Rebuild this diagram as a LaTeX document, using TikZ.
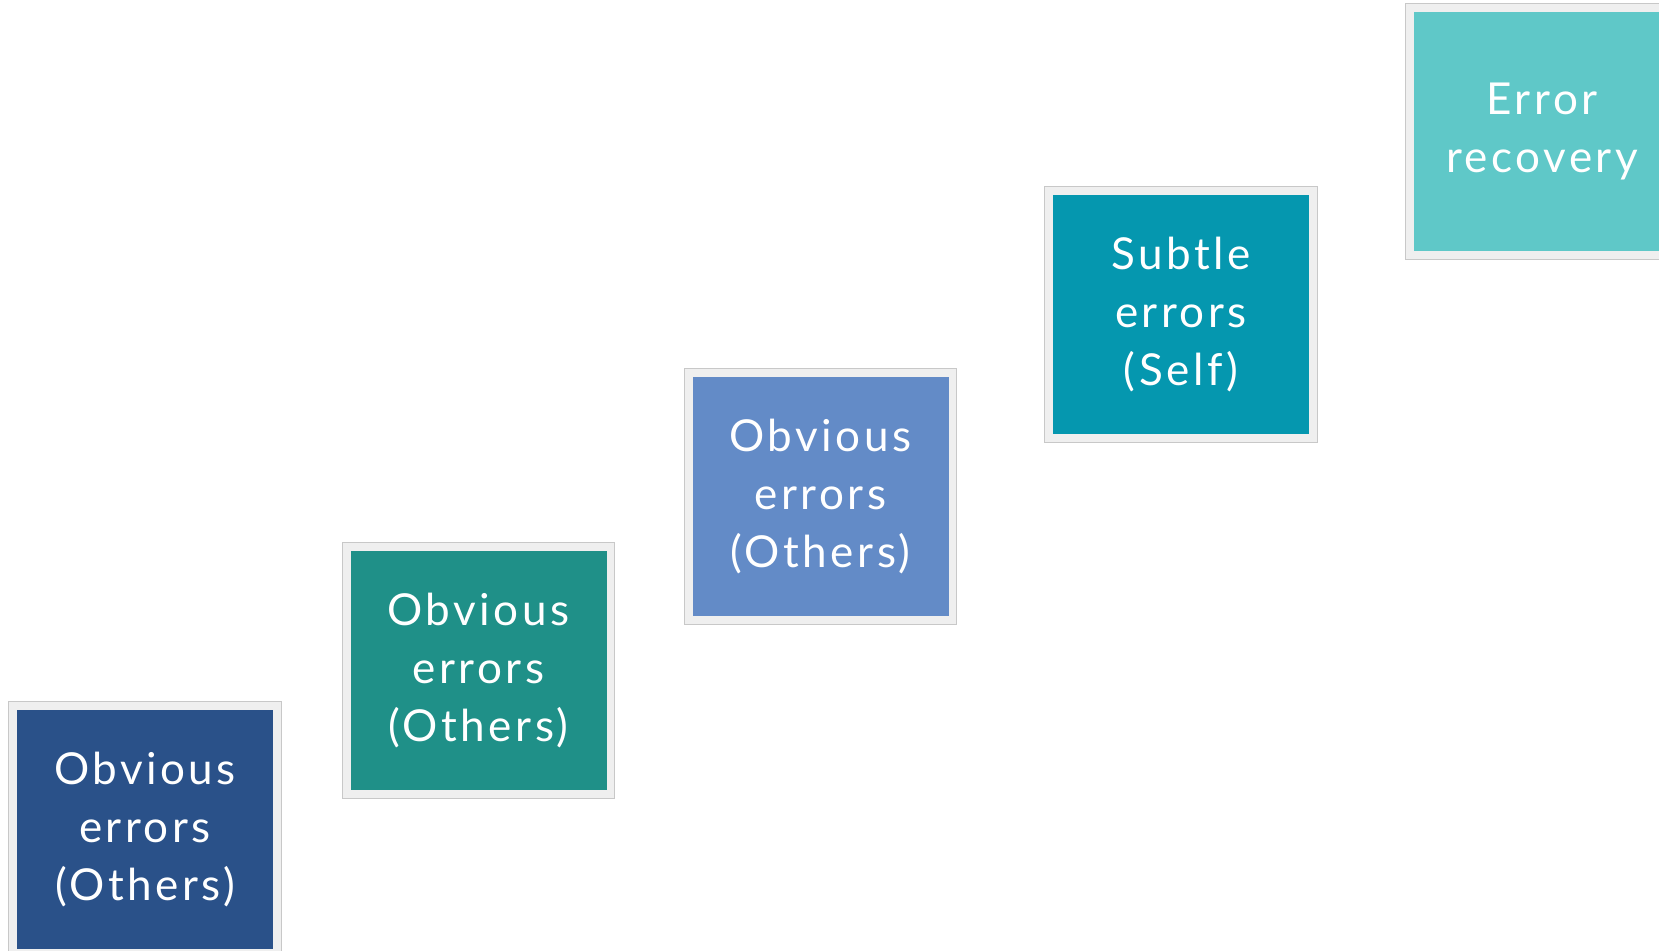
\documentclass[tikz,border=0pt]{standalone}
\usepackage{fontspec}
\setmainfont{Lato}
\newfontfamily\cardfamily[LetterSpace=8]{Lato}
\usetikzlibrary{backgrounds}
\definecolor{cA}{HTML}{2A5189}
\definecolor{cB}{HTML}{1F9088}
\definecolor{cC}{HTML}{638BC7}
\definecolor{cD}{HTML}{0597AF}
\definecolor{cE}{HTML}{5FC8C8}
\definecolor{frameFill}{HTML}{EFEFEF}
\definecolor{frameLine}{HTML}{C8C8C8}
\newcommand{\cardfont}{\cardfamily\fontsize{44}{58}\selectfont}
\tikzset{
  card/.style={fill=#1, minimum width=256pt, minimum height=239pt, inner sep=0pt,
    text=white, align=center, font=\cardfont},
  cardframe/.style={fill=frameFill, draw=frameLine, line width=1pt}
}
\begin{document}
\begin{tikzpicture}[x=1pt,y=-1pt]
\useasboundingbox (0,0) rectangle (1659,950);
\clip (0,0) rectangle (1659,950);
\node[card=cA] (b1) at (145,829.5) {Obvious\\errors\\(Others)};
\node[card=cB] (b2) at (478.5,670.5) {Obvious\\errors\\(Others)};
\node[card=cC] (b3) at (820.5,496.5) {Obvious\\errors\\(Others)};
\node[card=cD] (b4) at (1181,314.5) {Subtle\\errors\\(Self)};
\node[card=cE] (b5) at (1542,131.5) {Error\\recovery};
\begin{scope}[on background layer]
\fill[white] (0,0) rectangle (1659,950);
\foreach \b in {b1,b2,b3,b4,b5}{
  \path[cardframe] ([shift={(-8,-8)}]\b.north west) rectangle ([shift={(8,8)}]\b.south east);
}
\end{scope}
\end{tikzpicture}
\end{document}
